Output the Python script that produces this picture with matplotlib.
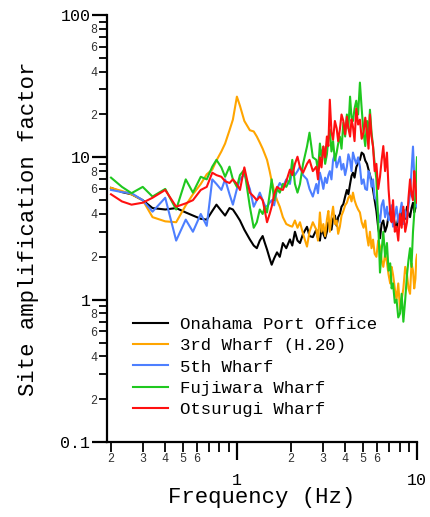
import matplotlib
matplotlib.use("Agg")
from matplotlib import pyplot as plt
from matplotlib.ticker import LogLocator, FixedLocator, FuncFormatter
import numpy as np

plt.rcParams['font.family'] = ['Liberation Mono', 'DejaVu Sans Mono']

# frequency grid (Hz) shared by all sites
freq = [0.20, 0.23, 0.26, 0.30, 0.34, 0.40, 0.46, 0.52, 0.57, 0.63,
        0.68, 0.73, 0.77, 0.82, 0.86, 0.91, 0.95, 1.00, 1.04, 1.10,
        1.18, 1.24, 1.29, 1.34, 1.39, 1.43, 1.47, 1.52, 1.56, 1.61,
        1.67, 1.73, 1.80, 1.88, 1.97, 2.03, 2.10, 2.17, 2.24, 2.33,
        2.45, 2.53, 2.64,
        2.76, 2.82, 2.89, 2.95, 3.02, 3.09, 3.16, 3.22, 3.28, 3.35,
        3.42, 3.50, 3.58, 3.65, 3.73, 3.81, 3.90, 3.99, 4.08, 4.16,
        4.25, 4.33, 4.41, 4.50, 4.60, 4.71, 4.82, 4.93, 5.05, 5.16,
        5.28, 5.38, 5.48, 5.59, 5.70, 5.82, 5.95, 6.09, 6.23, 6.36,
        6.50, 6.65, 6.81, 6.95, 7.10, 7.23, 7.36, 7.53, 7.70, 7.87,
        8.05, 8.22, 8.40, 8.60, 8.80, 8.97, 9.15, 9.32, 9.50, 9.65,
        9.80, 9.90, 10.0]

onahama = [6.1, 5.7, 5.5, 5.0, 4.4, 4.3, 4.4, 4.1, 3.9, 3.7,
           3.65, 4.2, 4.65, 4.2, 3.9, 4.4, 4.3, 3.9, 3.6, 3.1,
           2.65, 2.4, 2.3, 2.6, 2.8, 2.5, 2.25, 1.95, 1.76, 1.95,
           2.15, 2.0, 2.5, 2.3, 2.65, 2.4, 3.0, 2.6, 2.5, 2.9,
           3.25, 2.8, 2.75,
           3.1, 2.7, 2.6, 3.2, 2.9, 2.7, 3.0, 3.5, 3.4, 3.1,
           3.7, 3.9, 3.3, 3.8, 4.0, 4.5, 4.7, 5.3, 5.9, 5.5,
           6.5, 7.4, 7.8, 7.2, 8.5, 9.2, 9.6, 10.8, 10.5, 9.5,
           9.0, 8.2, 7.5, 6.8, 5.9, 5.0, 4.2, 3.2, 2.7, 3.4,
           3.6, 3.0, 3.3, 3.9, 4.2, 3.6, 4.0, 3.4, 3.2, 3.8,
           3.5, 4.0, 4.3, 3.7, 4.5, 4.0, 3.8, 4.4, 4.8, 4.1,
           4.4, 5.0, 4.6]

wharf3 = [6.1, 5.8, 5.5, 5.0, 3.8, 3.55, 3.5, 4.6, 5.5, 6.5,
          7.6, 8.2, 9.5, 11.0, 12.5, 15.5, 18.4, 26.7, 23.0, 18.0,
          15.5, 15.2, 14.0, 12.7, 11.5, 10.5, 9.6, 8.0, 6.8, 5.8,
          5.0, 4.5, 3.8, 3.4, 3.3, 3.26, 3.6, 3.2, 3.5, 2.9,
          2.36, 3.0, 3.5,
          3.1, 2.6, 4.1, 3.0, 3.4, 2.8, 3.65, 4.2, 3.0, 3.8,
          4.5, 3.4, 3.6, 2.9, 3.26, 3.9, 4.2, 4.6, 4.8, 5.2,
          5.4, 4.9, 5.65, 5.0, 4.6, 4.3, 4.1, 3.5, 3.2, 3.6,
          2.77, 2.4, 3.0, 2.3, 2.64, 2.1, 2.0, 2.6, 2.36, 1.9,
          1.7, 2.1, 1.82, 1.5, 1.3, 1.7, 1.5, 1.2, 1.0, 1.3,
          0.85, 1.0, 1.2, 1.7, 1.5, 1.2, 1.1, 1.8, 1.6, 1.2,
          1.4, 1.9, 2.07]

wharf5 = [5.9, 5.7, 5.6, 5.0, 4.15, 5.2, 2.6, 3.65, 3.0, 4.0,
          3.3, 7.0, 6.5, 5.9, 7.0, 5.5, 4.65, 6.0, 7.0, 7.6,
          6.0, 4.5, 5.0, 5.65, 5.0, 4.6, 4.5, 4.8, 5.0, 4.6,
          6.0, 6.6, 6.2, 7.0, 6.5, 8.2, 7.5, 8.0, 8.6, 7.5,
          7.0, 6.0, 5.3,
          6.5, 5.6, 7.8, 7.0, 6.0, 7.2, 6.6, 7.5, 8.0, 7.0,
          9.6, 10.5, 8.5, 9.2, 10.1, 8.2, 9.0, 7.5, 8.6, 10.5,
          9.5, 8.0, 10.8, 9.8, 9.0, 10.0, 8.6, 6.5, 7.0, 6.0,
          5.9, 8.0, 7.5, 6.2, 7.0, 5.2, 5.0, 4.0, 3.5, 4.6,
          5.0, 3.8, 4.5, 3.6, 3.8, 4.6, 3.26, 3.9, 4.5, 3.5,
          4.1, 4.8, 3.4, 4.2, 3.65, 4.6, 5.5, 8.0, 11.9, 7.5,
          6.2, 4.5, 5.0]

fujiwara = [7.2, 6.2, 5.6, 6.2, 5.3, 6.0, 4.3, 7.0, 5.65, 7.3,
            7.0, 8.6, 9.6, 8.5, 7.3, 8.6, 7.0, 6.2, 7.5, 8.2,
            4.5, 3.2, 3.5, 4.3, 4.0, 4.5, 4.1, 5.5, 7.0, 5.0,
            6.0, 5.65, 6.5, 6.2, 7.0, 9.6, 6.5, 5.65, 6.5, 9.0,
            11.9, 14.9, 10.0,
            9.6, 8.0, 12.5, 10.0, 11.9, 9.0, 10.5, 13.5, 15.7, 11.0,
            13.0, 9.5, 10.8, 12.5, 14.0, 11.5, 17.5, 14.0, 20.0, 16.0,
            26.7, 19.0, 18.0, 22.0, 25.0, 20.0, 33.5, 22.0, 14.9, 12.0,
            18.0, 14.0, 21.6, 15.0, 12.0, 9.0, 7.0, 3.5, 1.55, 2.2,
            3.0, 2.0, 2.5, 1.6, 1.8, 1.2, 1.3, 0.95, 1.0, 0.75,
            0.8, 1.1, 0.70, 1.0, 1.5, 1.9, 2.3, 1.7, 3.0, 4.0,
            5.5, 7.5, 10.0]

otsurugi = [5.5, 4.9, 4.65, 4.8, 5.2, 5.9, 4.5, 4.75, 5.0, 5.9,
            6.2, 7.8, 7.5, 7.3, 6.8, 6.6, 7.0, 6.5, 5.9, 8.5,
            5.65, 5.3, 5.0, 5.3, 5.0, 4.2, 3.5, 4.0, 4.5, 5.5,
            6.2, 6.0, 5.9, 6.8, 8.2, 7.5, 9.0, 10.1, 8.5, 7.8,
            9.0, 9.6, 8.0,
            8.6, 7.0, 10.0, 8.5, 11.9, 10.0, 14.0, 12.0, 25.4, 15.0,
            13.3, 18.0, 16.0, 13.0, 15.7, 20.0, 18.0, 14.5, 19.3, 16.0,
            14.0, 18.5, 16.4, 13.0, 22.0, 17.0, 18.4, 13.5, 15.0, 19.0,
            14.9, 11.5, 20.0, 14.0, 11.9, 8.0, 9.0, 6.0, 7.3, 9.5,
            12.0, 8.0, 10.8, 6.0, 4.1, 3.5, 5.0, 3.0, 3.26, 2.6,
            4.0, 3.2, 4.5, 3.0, 3.5, 5.2, 7.0, 5.5, 5.0, 8.0,
            6.5, 5.5, 4.8]

names = ["Onahama Port Office", "3rd Wharf (H.20)", "5th Wharf",
         "Fujiwara Wharf", "Otsurugi Wharf"]
colors = ["black", "#ffa500", "#4d7fff", "#1fc81f", "#ff1010"]

fig = plt.figure(figsize=(4.31, 5.17), dpi=100)
ax = fig.add_axes([107/431, 1 - 442/517, 310/431, 427/517])

for vals, name, c in zip([onahama, wharf3, wharf5, fujiwara, otsurugi], names, colors):
    ax.plot(freq, vals, color=c, lw=1.5, label=name)

ax.set_xscale("log")
ax.set_yscale("log")
ax.set_xlim(0.19, 10)
ax.set_ylim(0.1, 100)

for s in ["top", "right"]:
    ax.spines[s].set_visible(False)
for s in ["left", "bottom"]:
    ax.spines[s].set_linewidth(1.6)

# x ticks: 1 and 10 big, 2..6 small labels
ax.xaxis.set_major_locator(FixedLocator([1, 10]))
ax.xaxis.set_minor_locator(LogLocator(base=10, subs=np.arange(2, 10)))
ax.xaxis.set_major_formatter(FuncFormatter(lambda v, p: "%g" % v))
def xminor(v, p):
    d = int(round(v / 10 ** np.floor(np.log10(v) + 1e-9)))
    return str(d) if d in (2, 3, 4, 5, 6) else ""
ax.xaxis.set_minor_formatter(FuncFormatter(xminor))

# y ticks: decades big, 2,4,6,8 small
ax.yaxis.set_major_locator(FixedLocator([0.1, 1, 10, 100]))
ax.yaxis.set_minor_locator(LogLocator(base=10, subs=np.arange(2, 10)))
ax.yaxis.set_major_formatter(FuncFormatter(lambda v, p: "%g" % v))
def yminor(v, p):
    d = int(round(v / 10 ** np.floor(np.log10(v) + 1e-9)))
    return str(d) if d in (2, 4, 6, 8) else ""
ax.yaxis.set_minor_formatter(FuncFormatter(yminor))

ax.tick_params(axis="x", which="major", direction="out", length=13, width=1.6,
               labelsize=12, pad=9)
ax.tick_params(axis="x", which="minor", direction="out", length=7, width=1.3,
               labelsize=8.5, pad=1, labelcolor="#333333")
ax.tick_params(axis="y", which="major", direction="out", length=11, width=1.6,
               labelsize=12, pad=1)
ax.tick_params(axis="y", which="minor", direction="out", length=6, width=1.3,
               labelsize=8.5, pad=1, labelcolor="#333333")

ax.set_xlabel("Frequency (Hz)", fontsize=16)
ax.xaxis.set_label_coords(0.5, -0.105)
ax.set_ylabel("Site amplification factor", fontsize=16)
ax.yaxis.set_label_coords(-0.22, 0.5)

ax.legend(loc="upper left", bbox_to_anchor=(0.084, 0.293), frameon=False,
          fontsize=12.5, handlelength=2.0, handletextpad=0.7,
          labelspacing=0.35, borderpad=0, borderaxespad=0)

fig.savefig("out.png", dpi=100)
